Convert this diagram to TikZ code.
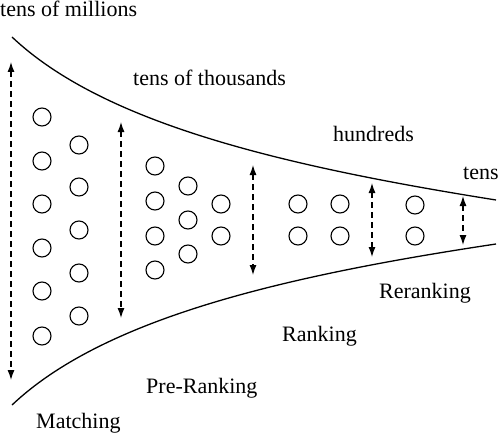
\documentclass[tikz,border=0pt]{standalone}
\usepackage{fontspec}
\setmainfont{Liberation Serif}
\newfontfamily\stagefont{Liberation Serif}
\usepackage{tikz}
\usetikzlibrary{arrows.meta}
\tikzset{item/.style={circle, draw=black, line width=1.1pt, minimum size=18pt, inner sep=0pt},
%text of the stages
lbl/.style={font=\stagefont\fontsize{22}{26}\selectfont, inner sep=0pt, anchor=base west}}

\begin{document}
\begin{tikzpicture}[x=1pt,y=-1pt,>={Latex[length=10pt,width=7pt]}]
\useasboundingbox (0,0) rectangle (498,436);
% funnel
\draw[line width=1.3pt] (12,37) .. controls (102,122) and (276,165) .. (496,200);
\draw[line width=1.3pt] (12,405) .. controls (102,320) and (276,277) .. (496,244);

% items
\foreach \y [count=\i] in {117,161,204,248,291,336}
     \node[item] (ma\i) at (42,\y) {};
\foreach \y [count=\i] in {145,187,230,273,316}
     \node[item] (mb\i) at (79,\y) {};
\foreach \y [count=\i] in {166,201,236,270}
     \node[item] (pa\i) at (155,\y) {};
\foreach \y [count=\i] in {186,220,254}
     \node[item] (pb\i) at (188,\y) {};
\foreach \y [count=\i] in {204,236}
     \node[item] (pc\i) at (221,\y) {};
\foreach \y [count=\i] in {204,236}
     \node[item] (ra\i) at (298,\y) {};
\foreach \y [count=\i] in {204,236}
     \node[item] (rb\i) at (340,\y) {};
\foreach \y [count=\i] in {205,236}
     \node[item] (ea\i) at (415,\y) {};

% counts
\foreach \x/\ya/\yb [count=\i] in {11/62/380, 121/122/318, 253/165/275, 372/183/257, 463/196/245}
   {
   \coordinate (top\i) at (\x,\ya);
   \coordinate (bot\i) at (\x,\yb);
   \draw [<->, line width=1.2pt, dash pattern=on 6pt off 4pt] (top\i) -- (bot\i);
   }

% labels
\node[lbl] (millions) at (0,17) {tens of millions};
\node[lbl] (thousands) at (133,85) {tens of thousands};
\node[lbl] (hundreds) at (333,141) {hundreds};
\node[lbl] (tens) at (463,179) {tens};
\node[lbl] (reranking) at (379,298) {Reranking};
\node[lbl] (ranking) at (282,341) {Ranking};
\node[lbl] (preranking) at (146,393) {Pre-Ranking};
\node[lbl] (matching) at (36,428) {Matching};

\end{tikzpicture}
\end{document}
